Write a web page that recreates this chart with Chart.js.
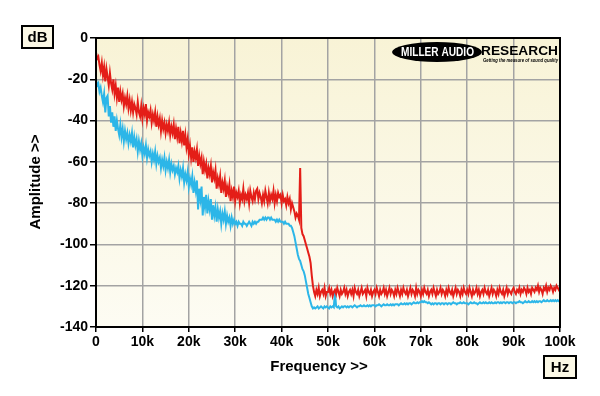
<!DOCTYPE html>
<html>
<head>
<meta charset="utf-8">
<script src="https://cdn.jsdelivr.net/npm/chart.js@4"></script>
<style>
  body { margin: 0; background: #fff; }
  #wrap { width: 600px; height: 396px; }
</style>
</head>
<body>
<div id="wrap"><canvas id="spectrum" width="600" height="396"></canvas></div>
<script>
// frequency grid in kHz, one sample every 0.25 kHz
const freqKHz = [];
for (let k = 0; k <= 400; k++) freqKHz.push(k * 0.25);

const xTickLabels = ['0', '10k', '20k', '30k', '40k', '50k', '60k', '70k', '80k', '90k', '100k'];
const yTickValues = [0, -20, -40, -60, -80, -100, -120, -140];

// red trace (dB), one row per 5 kHz
const redDb = [
  -7, -10, -9, -13, -16, -12, -18, -14, -21, -15, -19, -23, -17, -22, -25, -20, -27, -23, -29, -24,
  -31, -26, -30, -27, -33, -29, -32, -28, -34, -30, -35, -31, -36, -32, -34, -37, -31, -36, -38, -33,
  -39, -34, -37, -32, -40, -36, -38, -35, -41, -37, -40, -36, -43, -38, -42, -39, -45, -40, -44, -41,
  -46, -42, -45, -41, -47, -43, -46, -42, -49, -44, -48, -43, -51, -46, -50, -45, -52, -47, -53, -49,
  -56, -52, -58, -53, -60, -55, -58, -54, -62, -57, -61, -58, -66, -60, -64, -61, -68, -63, -66, -62,
  -70, -65, -68, -64, -73, -68, -71, -67, -75, -70, -73, -69, -77, -72, -75, -71, -79, -74, -77, -72,
  -79, -75, -77, -74, -80, -76, -78, -73, -79, -76, -78, -75, -80, -74, -77, -79, -75, -78, -74, -73,
  -78, -75, -77, -80, -76, -79, -74, -77, -80, -75, -79, -76, -78, -74, -80, -76, -79, -75, -77, -76,
  -80, -76, -79, -78, -81, -77, -80, -78, -83, -80, -82, -84, -87, -85, -86, -88, -63, -92, -95, -96,
  -98, -100, -102, -104, -106, -109, -115, -120, -123, -125, -122, -124, -121, -125, -123, -122, -124, -121, -125, -123,
  -123, -121, -124, -122, -125, -123, -122, -124, -121, -123, -125, -122, -124, -123, -121, -124, -122, -125, -123, -122,
  -124, -122, -125, -121, -123, -124, -122, -125, -123, -121, -124, -123, -122, -125, -121, -123, -124, -122, -125, -123,
  -122, -124, -121, -123, -125, -122, -124, -123, -121, -124, -122, -125, -123, -121, -124, -122, -123, -125, -122, -124,
  -121, -123, -125, -122, -124, -121, -123, -124, -122, -125, -123, -121, -124, -122, -123, -125, -121, -124, -122, -123,
  -125, -122, -124, -121, -123, -124, -122, -125, -123, -122, -124, -121, -123, -125, -122, -124, -123, -121, -124, -122,
  -123, -125, -122, -124, -121, -123, -124, -122, -125, -123, -121, -124, -122, -123, -125, -122, -124, -121, -123, -124,
  -122, -124, -121, -123, -125, -122, -124, -123, -121, -124, -122, -125, -123, -122, -124, -121, -123, -124, -122, -125,
  -123, -121, -124, -122, -123, -125, -122, -124, -121, -123, -124, -122, -125, -123, -121, -124, -122, -123, -124, -122,
  -121, -123, -124, -122, -123, -121, -124, -122, -123, -121, -122, -124, -121, -123, -122, -124, -121, -122, -123, -121,
  -122, -120, -123, -121, -122, -124, -121, -122, -120, -123, -121, -122, -120, -121, -123, -121, -122, -120, -121, -122,
  -121
];

// blue trace (dB), one row per 5 kHz
const blueDb = [
  -20, -23, -22, -26, -24, -28, -31, -27, -36, -29, -28, -38, -33, -41, -36, -43, -38, -45, -40, -44,
  -47, -42, -48, -44, -50, -45, -49, -46, -51, -47, -50, -46, -53, -48, -52, -49, -55, -50, -54, -51,
  -57, -53, -56, -52, -58, -54, -57, -55, -60, -56, -59, -55, -61, -57, -60, -58, -63, -59, -62, -58,
  -64, -60, -63, -59, -65, -61, -64, -62, -66, -63, -65, -62, -68, -64, -67, -63, -70, -66, -69, -65,
  -72, -68, -71, -67, -75, -70, -74, -69, -83, -73, -78, -72, -86, -77, -82, -76, -85, -79, -83, -78,
  -88, -81, -86, -82, -89, -83, -87, -84, -90, -85, -88, -84, -90, -86, -89, -87, -91, -87, -90, -88,
  -90, -89, -91, -89, -90, -90, -91, -89, -90, -90, -91, -90, -89, -90, -91, -89, -90, -89, -90, -89,
  -89, -88, -88, -88, -87, -88, -87, -88, -87, -87, -88, -87, -88, -88, -88, -89, -88, -89, -88, -89,
  -89, -89, -90, -89, -90, -90, -90, -91, -91, -92, -94, -96, -99, -102, -105, -107, -108, -110, -112, -113,
  -115, -118, -121, -124, -126, -128, -130, -131, -130.5, -131, -130.5, -130, -131, -130.5, -130, -130.5, -131, -130, -130.5, -130,
  -130.5, -131, -130, -130.5, -130, -130.5, -123, -130, -130.5, -130, -131, -130.5, -130, -130.5, -130, -130, -130.5, -130, -130.5, -130,
  -130, -130.5, -130, -129.5, -130, -130.5, -130, -130, -129.5, -130, -130, -129.5, -130, -130, -129.5, -130, -129.5, -130, -129.5, -129.5,
  -129.5, -130, -129.5, -129.5, -129, -129.5, -130, -129.5, -129, -129.5, -129.5, -129, -129.5, -129.5, -129, -129.5, -129, -129.5, -129, -129,
  -129, -129.5, -129, -128.5, -129, -129, -128.5, -129, -128.5, -129, -128.5, -128.5, -129, -128.5, -128, -128.5, -128.5, -128, -128.5, -128,
  -128, -127.5, -128, -127.5, -128, -128, -128.5, -128, -128.5, -129, -128.5, -129, -128.5, -128.5, -129, -128.5, -128.5, -129, -128.5, -128.5,
  -129, -128.5, -128.5, -129, -128.5, -128.5, -129, -128.5, -128, -128.5, -128.5, -129, -128.5, -128.5, -128, -128.5, -128.5, -128, -128.5, -128.5,
  -128.5, -129, -128.5, -128, -128.5, -128.5, -128, -128.5, -128.5, -129, -128.5, -128, -128.5, -128.5, -128, -128.5, -128, -128.5, -128.5, -128,
  -128.5, -128, -128.5, -128.5, -128, -128.5, -128, -128, -128.5, -128, -128.5, -128, -128, -128.5, -128, -128, -128.5, -128, -128, -128.5,
  -128, -128, -128.5, -128, -128, -127.5, -128, -128, -128.5, -128, -127.5, -128, -128, -127.5, -128, -128, -127.5, -128, -127.5, -128,
  -127.5, -128, -127.5, -127.5, -128, -127.5, -127, -127.5, -127.5, -127, -127.5, -127.5, -127, -127.5, -127, -127.5, -127, -127.5, -127, -127.5,
  -127.5
];

const FONT = "'Liberation Sans', Arial, sans-serif";

function toPoints(vals) {
  return vals.map((v, i) => ({ x: freqKHz[i] * 1000, y: v }));
}

// squeeze or stretch text to a given width
function fitText(ctx, txt, x, y, w) {
  const m = ctx.measureText(txt).width;
  ctx.save();
  ctx.translate(x, y);
  ctx.scale(w / m, 1);
  ctx.fillText(txt, 0, 0);
  ctx.restore();
}

const backdrop = {
  id: 'backdrop',
  beforeDraw(chart) {
    const { ctx, chartArea: a } = chart;
    const g = ctx.createLinearGradient(0, a.top, 0, a.bottom);
    g.addColorStop(0, '#f8f3d6');
    g.addColorStop(1, '#fdfcf3');
    ctx.save();
    ctx.fillStyle = g;
    ctx.fillRect(a.left, a.top, a.right - a.left, a.bottom - a.top);
    ctx.restore();
  },
  afterDraw(chart) {
    const { ctx, chartArea: a } = chart;
    ctx.save();
    // frame
    ctx.strokeStyle = '#000';
    ctx.lineWidth = 2;
    ctx.strokeRect(a.left, a.top, a.right - a.left, a.bottom - a.top);

    // unit boxes
    function unitBox(x, y, w, h, txt) {
      ctx.fillStyle = '#fbf8e6';
      ctx.fillRect(x, y, w, h);
      ctx.strokeStyle = '#000';
      ctx.lineWidth = 2;
      ctx.strokeRect(x, y, w, h);
      ctx.fillStyle = '#000';
      ctx.font = 'bold 15px ' + FONT;
      ctx.textAlign = 'center';
      ctx.textBaseline = 'middle';
      ctx.fillText(txt, x + w / 2, y + h / 2 + 1);
    }
    unitBox(22, 26, 31, 22, 'dB');
    unitBox(544, 356, 32, 22, 'Hz');

    // axis titles
    ctx.fillStyle = '#000';
    ctx.font = 'bold 15px ' + FONT;
    ctx.textAlign = 'center';
    ctx.textBaseline = 'alphabetic';
    ctx.fillText('Frequency >>', 319, 371);
    ctx.save();
    ctx.translate(40, 182);
    ctx.rotate(-Math.PI / 2);
    ctx.fillText('Amplitude >>', 0, 0);
    ctx.restore();

    // logo
    ctx.fillStyle = '#000';
    ctx.beginPath();
    ctx.ellipse(437, 52, 45, 10, 0, 0, Math.PI * 2);
    ctx.fill();
    ctx.textAlign = 'left';
    ctx.textBaseline = 'alphabetic';
    ctx.fillStyle = '#fff';
    ctx.font = '900 12px ' + FONT;
    fitText(ctx, 'MILLER AUDIO', 401, 56, 73);
    ctx.fillStyle = '#000';
    ctx.font = '900 13px ' + FONT;
    fitText(ctx, 'RESEARCH', 481, 55, 77);
    ctx.font = 'italic bold 6px ' + FONT;
    fitText(ctx, 'Getting the measure of sound quality', 483, 62, 75);
    ctx.restore();
  }
};

new Chart(document.getElementById('spectrum'), {
  type: 'line',
  data: {
    datasets: [
      {
        label: 'Red',
        data: toPoints(redDb),
        borderColor: 'rgb(228,30,24)',
        borderWidth: 2,
        pointRadius: 0,
        tension: 0
      },
      {
        label: 'Blue',
        data: toPoints(blueDb),
        borderColor: 'rgb(44,182,232)',
        borderWidth: 2,
        pointRadius: 0,
        tension: 0
      }
    ]
  },
  options: {
    responsive: false,
    animation: false,
    layout: { padding: { left: 0, top: 38, right: 40, bottom: 0 } },
    plugins: { legend: { display: false }, tooltip: { enabled: false } },
    scales: {
      x: {
        type: 'linear',
        min: 0,
        max: 100000,
        afterFit(scale) { scale.height = 69; },
        afterBuildTicks(scale) {
          scale.ticks = xTickLabels.map((_, i) => ({ value: i * 10000 }));
        },
        ticks: {
          color: '#000',
          font: { family: FONT, size: 14, weight: 'bold' },
          padding: 2,
          maxRotation: 0,
          autoSkip: false,
          callback: (v) => xTickLabels[Math.round(v / 10000)]
        },
        grid: { color: '#a3a3a3', lineWidth: 1.5, tickColor: '#000', tickLength: 5 },
        border: { display: false }
      },
      y: {
        min: -140,
        max: 0,
        afterFit(scale) { scale.width = 96; },
        afterBuildTicks(scale) {
          scale.ticks = yTickValues.map(v => ({ value: v }));
        },
        ticks: {
          color: '#000',
          font: { family: FONT, size: 14, weight: 'bold' },
          padding: 2
        },
        grid: { color: '#a3a3a3', lineWidth: 1.5, tickColor: '#000', tickLength: 6 },
        border: { display: false }
      }
    }
  },
  plugins: [backdrop]
});
</script>
</body>
</html>
